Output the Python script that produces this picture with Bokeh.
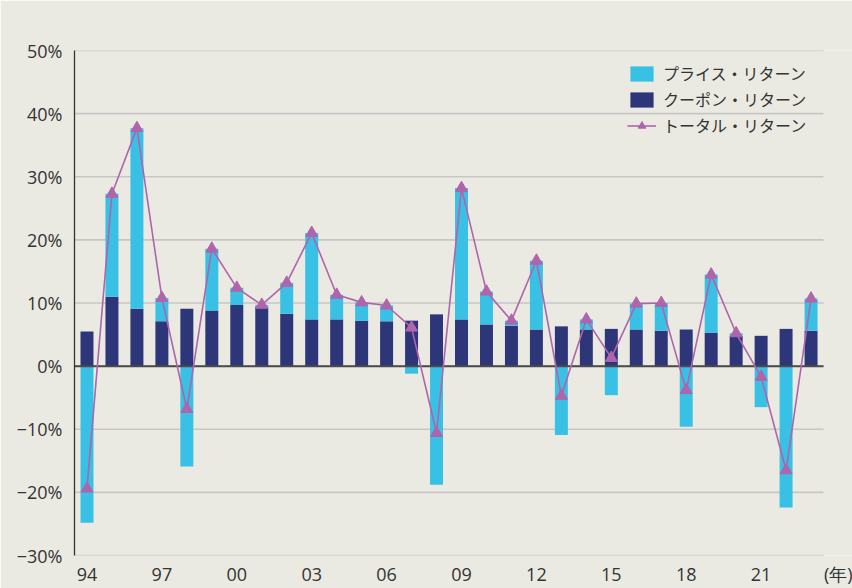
from bokeh.plotting import figure
from bokeh.models import (Range1d, FixedTicker, Legend, LegendItem,
                          ColumnDataSource)
from bokeh.embed import file_html
from bokeh.resources import INLINE

# ---- data (values in %) ----
years = ["94", "95", "96", "97", "98", "99", "00", "01", "02", "03",
         "04", "05", "06", "07", "08", "09", "10", "11", "12", "13",
         "14", "15", "16", "17", "18", "19", "20", "21", "22", "23"]
coupon = [5.5, 11.0, 9.1, 7.1, 9.1, 8.8, 9.7, 9.4, 8.3, 7.4,
          7.4, 7.2, 7.1, 7.2, 8.2, 7.4, 6.6, 6.4, 5.8, 6.3,
          5.8, 5.9, 5.8, 5.6, 5.8, 5.3, 4.8, 4.8, 5.9, 5.6]
price = [-24.8, 16.3, 28.6, 3.7, -15.9, 9.8, 2.7, 0.3, 4.9, 13.7,
         3.9, 2.9, 2.5, -1.2, -18.8, 20.8, 5.2, 0.8, 10.9, -10.9,
         1.6, -4.6, 4.1, 4.4, -9.6, 9.2, 0.4, -6.5, -22.4, 5.1]
total = [-19.4, 27.3, 37.7, 10.8, -6.8, 18.6, 12.4, 9.7, 13.2, 21.1,
         11.3, 10.1, 9.6, 6.1, -10.6, 28.2, 11.8, 7.2, 16.7, -4.7,
         7.4, 1.3, 9.9, 10.0, -3.8, 14.5, 5.2, -1.7, -16.5, 10.7]
y_ticks = [-30, -20, -10, 0, 10, 20, 30, 40, 50]
y_tick_labels = ["−30%", "−20%", "−10%", "0%", "10%", "20%", "30%", "40%", "50%"]
x_tick_every = 3
series_names = ["プライス・リターン", "クーポン・リターン", "トータル・リターン"]
unit_label = "(年)"

# ---- styles ----
BG = "#EBEAE2"
CYAN = "#38C1E5"
NAVY = "#2D3679"
PURPLE = "#AE65AC"
TEXT = "#333333"
GRID = "#C6C6C6"
FONT = "Open Sans"
JFONT = "Noto Sans CJK JP"

n = len(years)
idx = list(range(n))
x_lo, x_hi = -0.5, n - 0.5          # extent of the bar area
x_end = x_hi + 1.16                 # extra room on the right for the unit label
unit_pos = x_hi + 0.6

price_bottom = [c if pr >= 0 else 0 for c, pr in zip(coupon, price)]
price_top = [c + pr if pr >= 0 else pr for c, pr in zip(coupon, price)]

src_c = ColumnDataSource(dict(x=idx, top=coupon))
src_p = ColumnDataSource(dict(x=idx, bottom=price_bottom, top=price_top))
src_t = ColumnDataSource(dict(x=idx, y=total))
src_g = ColumnDataSource(dict(x0=[x_lo] * len(y_ticks), x1=[x_hi] * len(y_ticks),
                              y=y_ticks))

p = figure(width=852, height=588,
           x_range=Range1d(x_lo, x_end),
           y_range=Range1d(y_ticks[0], y_ticks[-1]),
           output_backend="svg", toolbar_location=None,
           min_border_left=74, min_border_right=0,
           min_border_top=50, min_border_bottom=31,
           background_fill_color=BG, border_fill_color=BG,
           outline_line_color=None)

# horizontal grid lines limited to the bar area
p.segment(x0="x0", x1="x1", y0="y", y1="y", source=src_g,
          line_color=GRID, line_width=1.6)

r_c = p.vbar(x="x", width=0.52, bottom=0, top="top", source=src_c,
             fill_color=NAVY, line_color=None)
r_p = p.vbar(x="x", width=0.52, bottom="bottom", top="top", source=src_p,
             fill_color=CYAN, line_color=None)

# zero line
p.segment(x0=[x_lo], x1=[x_hi], y0=[0], y1=[0], line_color="#4a4a4a", line_width=2)

r_l = p.line(x="x", y="y", source=src_t, line_color=PURPLE, line_width=1.6)
r_s = p.scatter(x="x", y="y", source=src_t, marker="triangle", size=12,
                fill_color=PURPLE, line_color=PURPLE)

p.xgrid.grid_line_color = None
p.ygrid.grid_line_color = None

# y axis
p.yaxis.ticker = FixedTicker(ticks=y_ticks)
p.yaxis.major_label_overrides = {t: l for t, l in zip(y_ticks, y_tick_labels)}
p.yaxis.axis_line_color = TEXT
p.yaxis.axis_line_width = 1.3
p.yaxis.major_tick_line_color = None
p.yaxis.minor_tick_line_color = None
p.yaxis.major_tick_out = 0
p.yaxis.major_label_standoff = 12
p.yaxis.major_label_text_font = FONT
p.yaxis.major_label_text_font_size = "18px"
p.yaxis.major_label_text_color = TEXT

# x axis (year labels + unit label at the far right)
xt = idx[::x_tick_every]
overrides = {i: years[i] for i in xt}
overrides[unit_pos] = unit_label
p.xaxis.ticker = FixedTicker(ticks=xt + [unit_pos])
p.xaxis.major_label_overrides = overrides
p.xaxis.axis_line_color = None
p.xaxis.major_tick_line_color = None
p.xaxis.minor_tick_line_color = None
p.xaxis.major_tick_out = 0
p.xaxis.major_label_standoff = 6
p.xaxis.major_label_text_font = FONT
p.xaxis.major_label_text_font_size = "18px"
p.xaxis.major_label_text_color = TEXT

legend = Legend(items=[LegendItem(label=series_names[0], renderers=[r_p]),
                       LegendItem(label=series_names[1], renderers=[r_c]),
                       LegendItem(label=series_names[2], renderers=[r_l, r_s])],
                location=(553, 418), margin=0, padding=0,
                glyph_width=29, glyph_height=19, label_height=19,
                spacing=2, label_standoff=7,
                label_text_font=JFONT, label_text_font_size="16px",
                label_text_color=TEXT,
                border_line_color=None, background_fill_alpha=0)
p.add_layout(legend)

open("out.html", "w").write(file_html(p, INLINE))
